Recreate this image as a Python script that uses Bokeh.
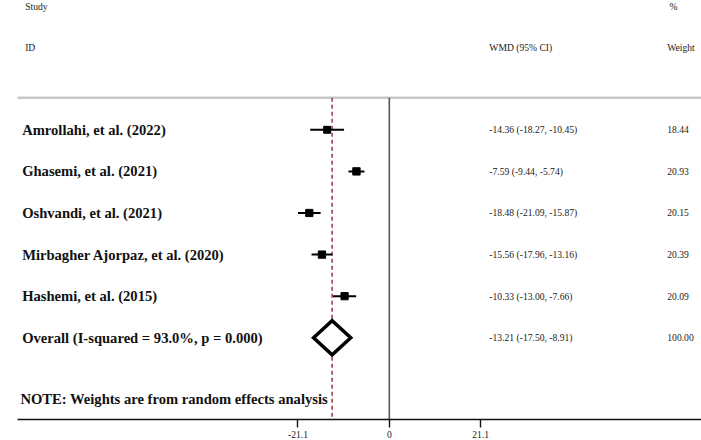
from bokeh.plotting import figure
from bokeh.models import Range1d, FixedTicker, ColumnDataSource
from bokeh.core.properties import value
from bokeh.embed import file_html
from bokeh.resources import INLINE

# ---- data ----
studies = ["Amrollahi, et al. (2022)", "Ghasemi, et al. (2021)", "Oshvandi, et al. (2021)",
           "Mirbagher Ajorpaz, et al. (2020)", "Hashemi, et al. (2015)"]
wmd = [-14.36, -7.59, -18.48, -15.56, -10.33]
lower = [-18.27, -9.44, -21.09, -17.96, -13.00]
upper = [-10.45, -5.74, -15.87, -13.16, -7.66]
weights = [18.44, 20.93, 20.15, 20.39, 20.09]
overall_label = "Overall (I-squared = 93.0%, p = 0.000)"
overall_est, overall_lo, overall_hi, overall_w = -13.21, -17.50, -8.91, 100.00
note = "NOTE: Weights are from random effects analysis"
tick_values = [-21.1, 0, 21.1]
tick_labels = ["-21.1", "0", "21.1"]

def ci_text(e, l, u):
    return f"{e:.2f} ({l:.2f}, {u:.2f})"

# ---- layout constants ----
SERIF = "Liberation Serif"
BIG = "14.6px"
SMALL = "9.6px"
X_START, X_END = -89.8, 72.1
AX_LEFT = -85.9
X_LABEL = -84.8
X_NOTE = -85.2
X_HDR = -84.1
X_CI = 23.1
X_W = 64.2
Y_TOP, Y_BOTTOM = -2.108, 7.964
ROW_STUDY_HDR, ROW_ID_HDR, ROW_LINE = -1.96, -0.976, 0.229
ROW_NOTE = 7.46

p = figure(width=701, height=440, output_backend="svg", toolbar_location=None,
           x_range=Range1d(X_START, X_END), y_range=Range1d(Y_BOTTOM, Y_TOP),
           y_axis_location=None, min_border=0, min_border_left=0, min_border_right=0,
           min_border_top=0, min_border_bottom=0,
           background_fill_color="white", border_fill_color="white")
p.outline_line_color = None
p.xgrid.visible = False
p.ygrid.visible = False

ax = p.xaxis[0]
ax.ticker = FixedTicker(ticks=tick_values)
ax.major_label_overrides = {v: s for v, s in zip(tick_values, tick_labels)}
ax.bounds = (AX_LEFT, X_END)
ax.axis_line_color = "#111111"
ax.axis_line_width = 1.6
ax.major_tick_line_color = "#111111"
ax.major_tick_line_width = 1.4
ax.major_tick_in = 0
ax.major_tick_out = 8
ax.minor_tick_line_color = None
ax.major_label_standoff = 3
ax.major_label_text_font = SERIF
ax.major_label_text_font_size = SMALL
ax.major_label_text_color = "#222222"

rows = list(range(1, len(studies) + 1))
overall_row = len(studies) + 1

# header line
p.segment(x0=[AX_LEFT], y0=[ROW_LINE], x1=[X_END], y1=[ROW_LINE],
          line_color="#c8c8c8", line_width=2.5)
# null line
p.segment(x0=[0], y0=[ROW_LINE], x1=[0], y1=[Y_BOTTOM], line_color="#555555", line_width=1.6)
# overall effect dashed line
p.segment(x0=[overall_est], y0=[ROW_LINE], x1=[overall_est], y1=[Y_BOTTOM],
          line_color="#a0424a", line_width=1.6, line_dash="4 3")

src = ColumnDataSource(dict(y=rows, est=wmd, lo=lower, hi=upper, w=weights,
                            size=[7.2 * (w / 20.0) ** 0.5 for w in weights],
                            label=studies,
                            ci=[ci_text(e, l, u) for e, l, u in zip(wmd, lower, upper)],
                            wt=[f"{w:.2f}" for w in weights]))
p.segment(x0="lo", y0="y", x1="hi", y1="y", source=src, line_color="black", line_width=2)
p.scatter(x="est", y="y", size="size", marker="square", source=src,
          fill_color="black", line_color="black")

# diamond
h = 0.41
p.patch(x=[overall_lo, overall_est, overall_hi, overall_est],
        y=[overall_row, overall_row - h, overall_row, overall_row + h],
        fill_color="white", line_color="black", line_width=3.5, line_join="miter")

# texts
p.text(x=X_LABEL, y="y", text="label", source=src, text_font=value(SERIF),
       text_font_style="bold", text_font_size=BIG, text_baseline="middle", text_color="#111111")
p.text(x=X_CI, y="y", text="ci", source=src, text_font=value(SERIF),
       text_font_size=SMALL, text_baseline="middle", text_color="#222222")
p.text(x=X_W, y="y", text="wt", source=src, text_font=value(SERIF),
       text_font_size=SMALL, text_baseline="middle", text_color="#222222")

p.text(x=[X_LABEL], y=[overall_row], text=[overall_label], text_font=value(SERIF),
       text_font_style="bold", text_font_size=BIG, text_baseline="middle", text_color="#111111")
p.text(x=[X_CI], y=[overall_row], text=[ci_text(overall_est, overall_lo, overall_hi)],
       text_font=value(SERIF), text_font_size=SMALL, text_baseline="middle", text_color="#222222")
p.text(x=[X_W], y=[overall_row], text=[f"{overall_w:.2f}"],
       text_font=value(SERIF), text_font_size=SMALL, text_baseline="middle", text_color="#222222")
p.text(x=[X_NOTE], y=[ROW_NOTE], text=[note], text_font=value(SERIF),
       text_font_style="bold", text_font_size=BIG, text_baseline="middle", text_color="#111111")

# headers
hdr = dict(text_font=value(SERIF), text_font_size=SMALL, text_baseline="middle", text_color="#222222")
p.text(x=[X_HDR, X_W + 0.5], y=[ROW_STUDY_HDR] * 2, text=["Study", "%"], **hdr)
p.text(x=[X_HDR, X_CI, X_W], y=[ROW_ID_HDR] * 3, text=["ID", "WMD (95% CI)", "Weight"], **hdr)

open("out.html", "w").write(file_html(p, INLINE))
